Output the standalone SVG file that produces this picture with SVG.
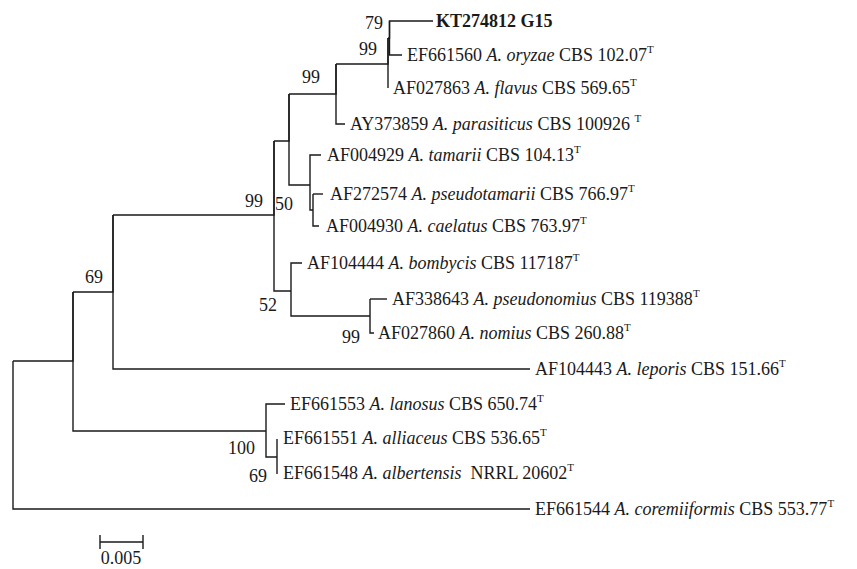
<svg xmlns="http://www.w3.org/2000/svg" width="857" height="569" viewBox="0 0 857 569">
<style>
text{font-family:"Liberation Serif","Times New Roman",serif;font-size:18px;fill:#1a1a1a}
.i{font-style:italic}
.b{font-weight:bold}
.e{text-anchor:end}
#edges path{fill:none;stroke:#1a1a1a;stroke-width:1.4}
</style>
<rect width="857" height="569" fill="#fff"/>
<g id="edges">
<path d="M13,361V509H530"/>
<path d="M13,361H73V292"/>
<path d="M73,292V431H266"/>
<path d="M73,292H113V215"/>
<path d="M113,215V369H530"/>
<path d="M113,215H274V141"/>
<path d="M274,141V291H291"/>
<path d="M274,141H289V94"/>
<path d="M289,94V185H310"/>
<path d="M289,94H336V64"/>
<path d="M336,64V124H345"/>
<path d="M336,64H388V38"/>
<path d="M388,38V88"/>
<path d="M388,38H389.5V21H433"/>
<path d="M389.5,21V55H402"/>
<path d="M310,185V155H321"/>
<path d="M310,185V210H313"/>
<path d="M313,194V226H319"/>
<path d="M313,194H323"/>
<path d="M291,291V263H302"/>
<path d="M291,291V316H370"/>
<path d="M370,299V333H374"/>
<path d="M370,299H387"/>
<path d="M266,431V404H285"/>
<path d="M266,431V457H277"/>
<path d="M277,439V474"/>
<path d="M100,542H143M100,535V549M143,535V549"/>
</g>
<g id="bootstrap">
<text class="e" x="383" y="29">79</text>
<text class="e" x="377" y="55">99</text>
<text class="e" x="320" y="83">99</text>
<text class="e" x="263" y="207">99</text>
<text x="275" y="210">50</text>
<text class="e" x="103" y="283">69</text>
<text class="e" x="277" y="311">52</text>
<text class="e" x="360" y="343">99</text>
<text class="e" x="255" y="454">100</text>
<text class="e" x="267" y="482">69</text>
</g>
<g id="t-KT274812"><text class="b" x="436" y="27">KT274812 G15</text></g>
<g id="t-EF661560"><text x="407" y="61">EF661560 <tspan class="i">A. oryzae</tspan> CBS 102.07<tspan dy="-8" font-size="11">T</tspan></text></g>
<g id="t-AF027863"><text x="393" y="94">AF027863 <tspan class="i">A. flavus</tspan> CBS 569.65<tspan dy="-8" font-size="11">T</tspan></text></g>
<g id="t-AY373859"><text x="350" y="130">AY373859 <tspan class="i">A. parasiticus</tspan> CBS 100926 <tspan dy="-8" font-size="11">T</tspan></text></g>
<g id="t-AF004929"><text x="327" y="161">AF004929 <tspan class="i">A. tamarii</tspan> CBS 104.13<tspan dy="-8" font-size="11">T</tspan></text></g>
<g id="t-AF272574"><text x="330" y="200">AF272574 <tspan class="i">A. pseudotamarii</tspan> CBS 766.97<tspan dy="-8" font-size="11">T</tspan></text></g>
<g id="t-AF004930"><text x="326" y="232">AF004930 <tspan class="i">A. caelatus</tspan> CBS 763.97<tspan dy="-8" font-size="11">T</tspan></text></g>
<g id="t-AF104444"><text x="307" y="269">AF104444 <tspan class="i">A. bombycis</tspan> CBS 117187<tspan dy="-8" font-size="11">T</tspan></text></g>
<g id="t-AF338643"><text x="392" y="305">AF338643 <tspan class="i">A. pseudonomius</tspan> CBS 119388<tspan dy="-8" font-size="11">T</tspan></text></g>
<g id="t-AF027860"><text x="378" y="339">AF027860 <tspan class="i">A. nomius</tspan> CBS 260.88<tspan dy="-8" font-size="11">T</tspan></text></g>
<g id="t-AF104443"><text x="535" y="375">AF104443 <tspan class="i">A. leporis</tspan> CBS 151.66<tspan dy="-8" font-size="11">T</tspan></text></g>
<g id="t-EF661553"><text x="290" y="410">EF661553 <tspan class="i">A. lanosus</tspan> CBS 650.74<tspan dy="-8" font-size="11">T</tspan></text></g>
<g id="t-EF661551"><text x="283" y="444">EF661551 <tspan class="i">A. alliaceus</tspan> CBS 536.65<tspan dy="-8" font-size="11">T</tspan></text></g>
<g id="t-EF661548"><text x="283" y="479">EF661548 <tspan class="i">A. albertensis</tspan>&#160; NRRL 20602<tspan dy="-8" font-size="11">T</tspan></text></g>
<g id="t-EF661544"><text x="535" y="515">EF661544 <tspan class="i">A. coremiiformis</tspan> CBS 553.77<tspan dy="-8" font-size="11">T</tspan></text></g>
<g id="scale"><text x="121" y="564" text-anchor="middle">0.005</text></g>
</svg>
